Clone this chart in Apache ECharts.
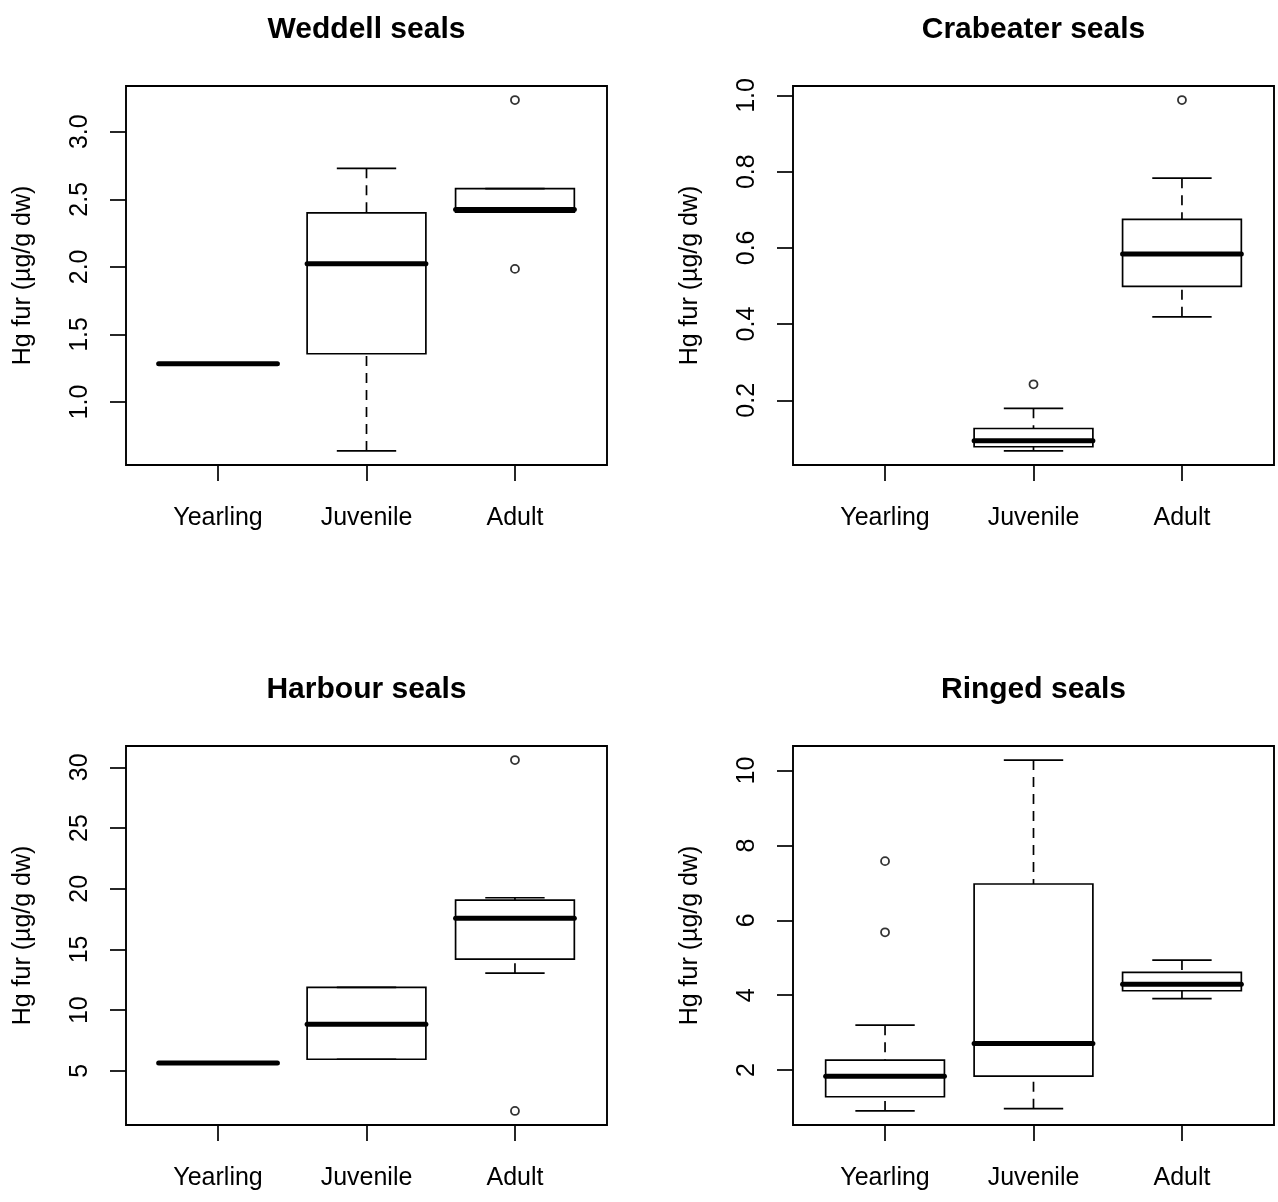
<!DOCTYPE html>
<html>
<head>
<meta charset="utf-8">
<script src="https://cdn.jsdelivr.net/npm/echarts@6/dist/echarts.min.js"></script>
<style>
html,body{margin:0;padding:0;background:#fff;}
#chart{width:1278px;height:1202px;}
</style>
</head>
<body>
<div id="chart"></div>
<script>
// ---- data ----
const categories = ['Yearling', 'Juvenile', 'Adult'];
const panelTitles = ['Weddell seals', 'Crabeater seals', 'Harbour seals', 'Ringed seals'];
const yAxisTitle = 'Hg fur (µg/g dw)';

// box stats per category: [lower whisker, Q1, median, Q3, upper whisker]; null = no data
const weddellStats = [[1.283, 1.283, 1.283, 1.283, 1.283], [0.638, 1.357, 2.022, 2.399, 2.729], [2.405, 2.405, 2.425, 2.579, 2.579]];
const weddellOutliers = [['Adult', 3.234], ['Adult', 1.985]];
const weddellTicks = [1.0, 1.5, 2.0, 2.5, 3.0];

const crabeaterStats = [null, [0.067, 0.078, 0.094, 0.126, 0.179], [0.419, 0.499, 0.584, 0.675, 0.783]];
const crabeaterOutliers = [['Juvenile', 0.242], ['Adult', 0.988]];
const crabeaterTicks = [0.2, 0.4, 0.6, 0.8, 1.0];

const harbourStats = [[5.66, 5.66, 5.66, 5.66, 5.66], [5.96, 5.96, 8.85, 11.87, 11.87], [13.05, 14.2, 17.58, 19.07, 19.26]];
const harbourOutliers = [['Adult', 30.6], ['Adult', 1.7]];
const harbourTicks = [5, 10, 15, 20, 25, 30];

const ringedStats = [[0.91, 1.29, 1.84, 2.27, 3.20], [0.97, 1.84, 2.71, 6.97, 10.28], [3.91, 4.12, 4.29, 4.61, 4.94]];
const ringedOutliers = [['Yearling', 7.58], ['Yearling', 5.68]];
const ringedTicks = [2, 4, 6, 8, 10];

// ---- build ----
const panels = [
  {stats: weddellStats, outliers: weddellOutliers, ticks: weddellTicks, dec: 1},
  {stats: crabeaterStats, outliers: crabeaterOutliers, ticks: crabeaterTicks, dec: 1},
  {stats: harbourStats, outliers: harbourOutliers, ticks: harbourTicks, dec: 0},
  {stats: ringedStats, outliers: ringedOutliers, ticks: ringedTicks, dec: 0}
];
const FONT = '"Liberation Sans", Arial, Helvetica, sans-serif';
const gridPos = [
  {left: 126, top: 86}, {left: 793, top: 86},
  {left: 126, top: 746}, {left: 793, top: 746}
];
const GW = 481, GH = 379;
const LW = 1.7;

function renderBox(params, api) {
  const x = api.value(0);
  const lo = api.value(1), q1 = api.value(2), med = api.value(3), q3 = api.value(4), hi = api.value(5);
  const cx = api.coord([x, med])[0];
  const yLo = api.coord([x, lo])[1];
  const yQ1 = api.coord([x, q1])[1];
  const yMed = api.coord([x, med])[1];
  const yQ3 = api.coord([x, q3])[1];
  const yHi = api.coord([x, hi])[1];
  const hw = api.size([0.8, 0])[0] / 2;
  const sw = hw / 2;
  const solid = {stroke: '#000', lineWidth: LW, fill: null};
  const dashed = {stroke: '#000', lineWidth: LW, fill: null, lineDash: [10, 7]};
  return {
    type: 'group',
    children: [
      {type: 'line', shape: {x1: cx, y1: yHi, x2: cx, y2: yQ3}, style: dashed},
      {type: 'line', shape: {x1: cx, y1: yLo, x2: cx, y2: yQ1}, style: dashed},
      {type: 'line', shape: {x1: cx - sw, y1: yHi, x2: cx + sw, y2: yHi}, style: solid},
      {type: 'line', shape: {x1: cx - sw, y1: yLo, x2: cx + sw, y2: yLo}, style: solid},
      {type: 'rect', shape: {x: cx - hw, y: yQ3, width: 2 * hw, height: yQ1 - yQ3}, style: {stroke: '#000', lineWidth: LW, fill: 'none'}},
      {type: 'line', shape: {x1: cx - hw, y1: yMed, x2: cx + hw, y2: yMed}, style: {stroke: '#000', lineWidth: 5, lineCap: 'round', fill: null}}
    ]
  };
}

const grids = [], xAxes = [], yAxes = [], series = [], graphics = [];
panels.forEach((p, i) => {
  const g = gridPos[i];
  grids.push({left: g.left, top: g.top, width: GW, height: GH, show: true, borderColor: '#000', borderWidth: 1.9, backgroundColor: 'transparent'});
  const vals = [];
  p.stats.forEach(s => { if (s) vals.push(...s); });
  p.outliers.forEach(o => vals.push(o[1]));
  const mn = Math.min(...vals), mx = Math.max(...vals);
  const pad = (mx - mn) * 0.04;
  const xs = categories.map((c, k) => k + 1);
  xAxes.push({
    type: 'value', gridIndex: i, min: 0.38, max: 3.62,
    splitLine: {show: false}, axisLine: {show: false},
    axisTick: {show: true, customValues: xs, length: 16, lineStyle: {color: '#000', width: LW}},
    axisLabel: {show: true, customValues: xs, formatter: v => categories[Math.round(v) - 1], fontSize: 25, fontFamily: FONT, color: '#000', margin: 41}
  });
  yAxes.push({
    type: 'value', gridIndex: i, min: mn - pad, max: mx + pad,
    splitLine: {show: false}, axisLine: {show: false},
    axisTick: {show: true, customValues: p.ticks, length: 16, lineStyle: {color: '#000', width: LW}},
    axisLabel: {show: true, customValues: p.ticks, rotate: 90, formatter: v => Number(v).toFixed(p.dec), fontSize: 25, fontFamily: FONT, color: '#000', margin: 33},
    name: yAxisTitle, nameLocation: 'middle', nameRotate: 90, nameGap: 90,
    nameTextStyle: {fontSize: 25, fontFamily: FONT, color: '#000'}
  });
  const boxData = [];
  p.stats.forEach((s, k) => { if (s) boxData.push([k + 1].concat(s)); });
  series.push({
    type: 'custom', xAxisIndex: i, yAxisIndex: i, data: boxData,
    encode: {x: 0, y: [1, 2, 3, 4, 5]}, renderItem: renderBox, silent: true, clip: false
  });
  series.push({
    type: 'scatter', xAxisIndex: i, yAxisIndex: i,
    data: p.outliers.map(o => [categories.indexOf(o[0]) + 1, o[1]]),
    symbol: 'circle', symbolSize: 8,
    itemStyle: {color: '#fff', borderColor: '#000', borderWidth: 1.8}, silent: true
  });
  graphics.push({
    type: 'text', x: g.left + GW / 2, y: g.top - 56,
    style: {text: panelTitles[i], font: 'bold 30px ' + FONT, align: 'center', verticalAlign: 'middle', fill: '#000'}
  });
});

const chart = echarts.init(document.getElementById('chart'), null, {renderer: 'canvas'});
chart.setOption({
  animation: false,
  backgroundColor: '#fff',
  grid: grids,
  xAxis: xAxes,
  yAxis: yAxes,
  series: series,
  graphic: graphics
});
</script>
</body>
</html>
